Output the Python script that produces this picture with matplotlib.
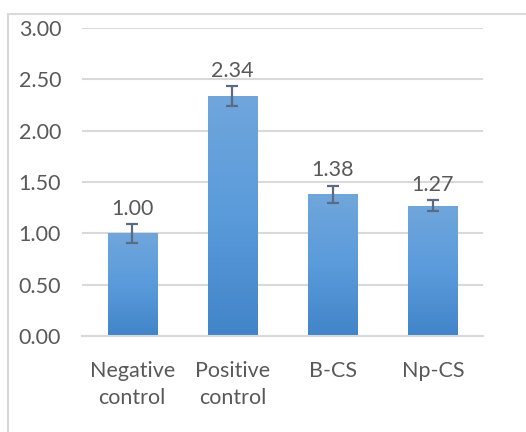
import matplotlib
matplotlib.use("Agg")
import matplotlib.pyplot as plt
import numpy as np
from matplotlib.patches import Rectangle
from matplotlib.colors import LinearSegmentedColormap

categories = ["Negative\ncontrol", "Positive\ncontrol", "B-CS", "Np-CS"]
values = [1.00, 2.34, 1.38, 1.27]
errors = [0.09, 0.095, 0.085, 0.055]
yticks = [0.0, 0.5, 1.0, 1.5, 2.0, 2.5, 3.0]

plt.rcParams['font.family'] = ['Lato', 'DejaVu Sans']
txt = '#595959'
fs = 15.5

fig = plt.figure(figsize=(5.26, 4.32), dpi=100)
fig.patches.append(Rectangle((8/526, -0.1), 1.2, (432-14)/432 + 0.1, transform=fig.transFigure,
                             fill=False, edgecolor='#d9d9d9', linewidth=1.5))
ax = fig.add_axes([82/526, 1 - 336/432, 401/526, 308/432])
x = np.arange(len(values))
width = 0.49
bars = ax.bar(x, values, width=width, color='#5b9bd5', zorder=2)

grad = np.linspace(0, 1, 256).reshape(-1, 1)
cmap = LinearSegmentedColormap.from_list('g', ['#4184c8', '#5a9bdb', '#70a6dc'])
for b in bars:
    x0, w, h = b.get_x(), b.get_width(), b.get_height()
    im = ax.imshow(grad, extent=(x0, x0 + w, 0, h), origin='lower', cmap=cmap,
                   aspect='auto', zorder=2.1)
    im.set_clip_path(b)

ax.errorbar(x, values, yerr=errors, fmt='none', ecolor='#5b6b82', elinewidth=1.6,
            capsize=4, capthick=1.6, zorder=3)
for xi, v, e in zip(x, values, errors):
    ax.text(xi, v + e + 0.05, f"{v:.2f}", ha='center', va='bottom', fontsize=fs, color=txt)

ax.set_xlim(-0.5, 3.5)
ax.set_ylim(0, 3.0)
ax.set_yticks(yticks)
ax.set_yticklabels([f"{t:.2f}" for t in yticks], fontsize=fs, color=txt)
ax.set_xticks(x)
ax.set_xticklabels(categories, fontsize=fs, color=txt, linespacing=1.45)
ax.tick_params(axis='both', length=0)
ax.tick_params(axis='y', pad=15)
ax.tick_params(axis='x', pad=18)
ax.grid(axis='y', color='#d9d9d9', linewidth=1.5, zorder=0)
ax.set_axisbelow(True)
for s in ['top', 'right', 'left']:
    ax.spines[s].set_visible(False)
ax.spines['bottom'].set_color('#d9d9d9')
ax.spines['bottom'].set_linewidth(1.5)
ax.set_facecolor('none')

fig.savefig('out.png', dpi=100)
